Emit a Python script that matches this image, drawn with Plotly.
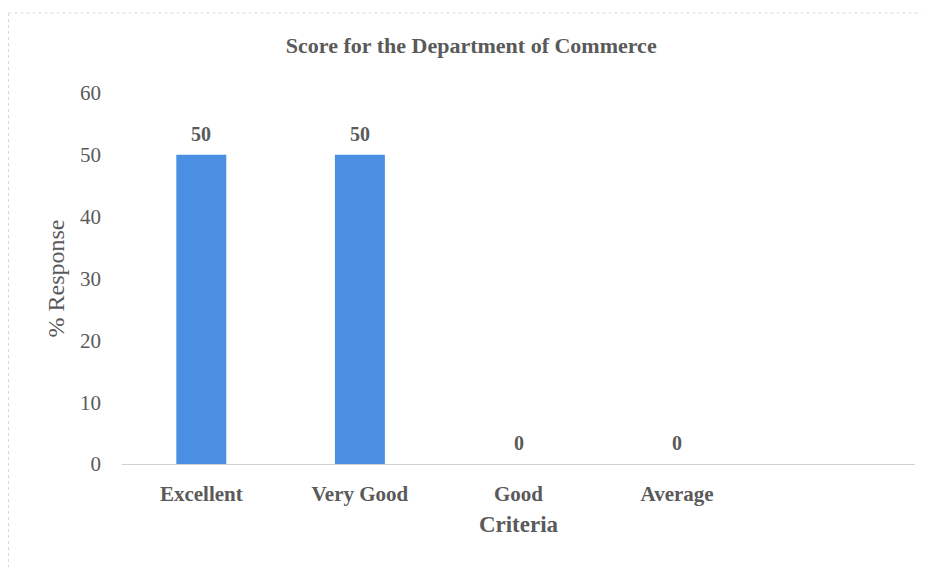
import plotly.graph_objects as go

categories = ["Excellent", "Very Good", "Good", "Average"]
values = [50, 50, 0, 0]
y_ticks = [0, 10, 20, 30, 40, 50, 60]

grey = "#5a5a5a"
font_family = "Liberation Serif"

W, H = 921, 559  # page body has an 8px margin
L, R, T, B = 114, 14, 85, 103

fig = go.Figure()
fig.add_trace(go.Bar(
    x=categories,
    y=values,
    width=0.315,
    marker=dict(color="#4A8FE2", line=dict(width=0)),
))

for c, v in zip(categories, values):
    fig.add_annotation(x=c, y=v, text=str(v), showarrow=False,
                       yanchor="middle", yshift=21,
                       font=dict(family=font_family, size=20, color=grey, weight="bold"))

fig.update_layout(
    width=W, height=H,
    paper_bgcolor="white", plot_bgcolor="white",
    margin=dict(l=L, r=R, t=T, b=B),
    showlegend=False,
    title=dict(text="Score for the Department of Commerce", x=0.503, xanchor="center",
               y=1 - 37 / H, yanchor="middle",
               font=dict(family=font_family, size=22, color=grey, weight="bold")),
    xaxis=dict(
        type="category",
        range=[-0.5, 4.5],
        showgrid=False, showline=True, linecolor="#d0d0d0", linewidth=1,
        ticks="", ticklabelstandoff=11,
        tickfont=dict(family=font_family, size=21, color=grey, weight="bold"),
        title=dict(text="Criteria", font=dict(family=font_family, size=23, color=grey, weight="bold"),
                   standoff=10),
        zeroline=False,
    ),
    yaxis=dict(
        range=[0, 60], tickvals=y_ticks,
        showgrid=False, showline=False, zeroline=False, ticks="",
        ticklabelstandoff=20,
        tickfont=dict(family=font_family, size=21, color=grey),
        title=dict(text="% Response", font=dict(family=font_family, size=24, color=grey),
                   standoff=8),
    ),
)

pw, ph = W - L - R, H - T - B
x_left = -L / pw + 0.5 / pw
x_right = 1 + R / pw
y_top = 1 + (T - 5) / ph
y_bot = -B / ph
border = dict(color="#d8d8d8", width=1, dash="dot")
fig.add_shape(type="line", xref="paper", yref="paper",
              x0=x_left, x1=x_right, y0=y_top, y1=y_top, line=border)
fig.add_shape(type="line", xref="paper", yref="paper",
              x0=x_left, x1=x_left, y0=y_top, y1=y_bot, line=border)

fig.write_html("out.html")
